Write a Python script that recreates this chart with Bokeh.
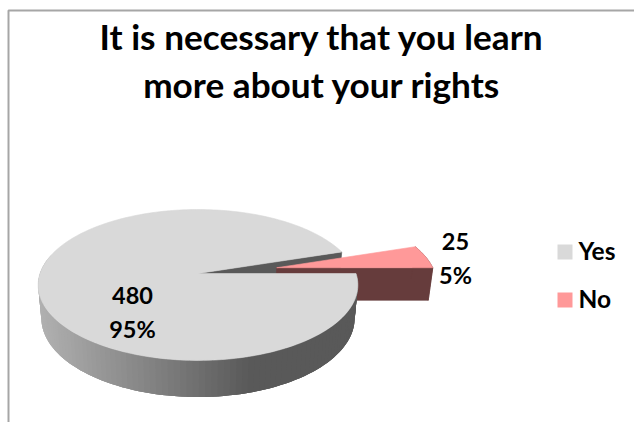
from math import cos, sin, radians
from bokeh.plotting import figure
from bokeh.embed import file_html
from bokeh.resources import INLINE
from bokeh.core.properties import value

# Survey answers
categories = ["Yes", "No"]
counts = [480, 25]
percent_labels = ["95%", "5%"]
title_lines = ["It is necessary that you learn", "more about your rights"]

FONT = value("Lato")
YES_TOP = "#d9d9d9"
NO_TOP = "#ff9999"
NO_WALL = "#663c3c"
YES_WALL = "#595959"
FRAME = "#a6a6a6"

# Tilted-disc projection: pie plane (u, v) and depth w to page position
X0, Y0 = 197.5, 273.0
A, B, P = 158.0, 73.7, 0.152
Q, D = 0.02, 33.5
EXPLODE = 0.51


def project(u, v, w=0.0):
    s = 1.0 + P * v + Q * w
    return X0 + A * u / s, Y0 - (B * v - D * w) / s


def rim(theta, w=0.0, du=0.0, dv=0.0):
    t = radians(theta)
    return project(cos(t) + du, sin(t) + dv, w)


def sweep(a, b, n):
    return [a + (b - a) * i / n for i in range(n + 1)]


total = sum(counts)
no_span = 360.0 * counts[1] / total
mid = radians(no_span / 2)
dx, dy = EXPLODE * cos(mid), EXPLODE * sin(mid)

p = figure(width=634, height=422, x_range=(0, 634), y_range=(422, 0),
           output_backend="svg", toolbar_location=None, min_border=0,
           outline_line_color=None, background_fill_color="white")
p.axis.visible = False
p.grid.visible = False


def poly(points, color, line_width=0.6):
    xs, ys = zip(*points)
    p.patch(list(xs), list(ys), fill_color=color,
            line_color=color if line_width else None, line_width=line_width or 1)


# Frame: left and top edges only
p.line([8, 8, 634], [422, 10, 10], line_color=FRAME, line_width=2)

# Cut face of the large slice, visible through the gap
poly([project(0, 0), rim(no_span), rim(no_span, 1), project(0, 0, 1)], YES_WALL)

# Exploded small slice: walls then top
apex = (dx, dy)
poly([project(*apex), rim(0, 0, dx, dy), rim(0, 1, dx, dy), project(dx, dy, 1)], NO_WALL)
arc = sweep(0, no_span, 12)
poly([rim(t, 0, dx, dy) for t in arc] + [rim(t, 1, dx, dy) for t in reversed(arc)], NO_WALL)
poly([project(*apex)] + [rim(t, 0, dx, dy) for t in arc], NO_TOP)

# Outer wall of the large slice, shaded strip by strip; each strip overlaps the next
LIGHT, DARK = 176, 89
steps = sweep(165, 360, 100)
for i, (a, b) in enumerate(zip(steps[:-1], steps[1:])):
    x = rim((a + b) / 2)[0]
    f = min(max((x - 40.0) / (250.0 - 40.0), 0.0), 1.0)
    g = int(round(LIGHT + (DARK - LIGHT) * f))
    end = steps[min(i + 3, len(steps) - 1)]
    strip = sweep(a, end, 3)
    poly([rim(t) for t in strip] + [rim(t, 1) for t in reversed(strip)],
         f"#{g:02x}{g:02x}{g:02x}", line_width=0)

# Top of the large slice
top_arc = sweep(no_span, 360, 240)
poly([project(0, 0)] + [rim(t) for t in top_arc], YES_TOP)

# Title
p.text([321.5, 321.5], [35, 83], text=title_lines, text_font=FONT, text_font_style="bold",
       text_font_size="35.2px", text_align="center", text_baseline="alphabetic",
       text_color="black")

# Data labels
label_style = dict(text_font=FONT, text_font_style="bold", text_font_size="23.5px",
                   text_align="center", text_baseline="alphabetic", text_color="black")
p.text([132, 132], [295, 328], text=[str(counts[0]), percent_labels[0]], **label_style)
p.text([455, 455], [241, 274], text=[str(counts[1]), percent_labels[1]], **label_style)

# Legend
p.rect([564.5, 564.5], [251.5, 299.5], width=15, height=15,
       fill_color=[YES_TOP, NO_TOP], line_color=None)
p.text([578, 578], [250, 298], text=categories, text_font=FONT, text_font_style="bold",
       text_font_size="24.5px", text_align="left", text_baseline="alphabetic", text_color="black")

open("out.html", "w").write(file_html(p, INLINE))
